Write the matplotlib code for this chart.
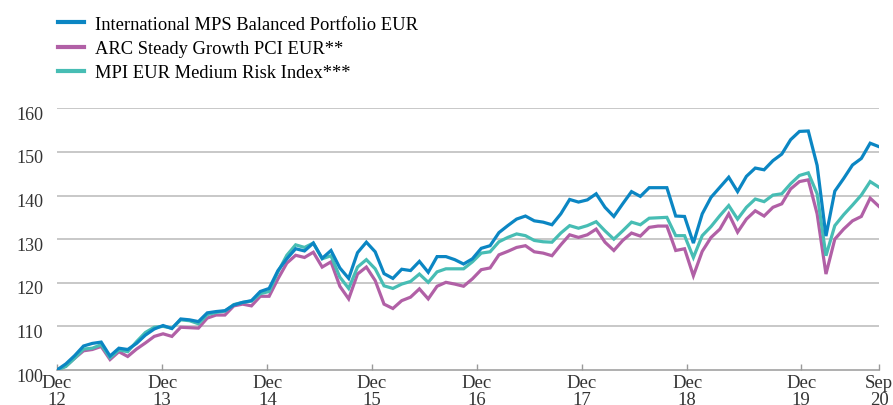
import matplotlib
matplotlib.use("Agg")
import matplotlib.pyplot as plt
import matplotlib.transforms as mtransforms

# monthly index values, Dec 2012 = 100 (94 months up to Sep 2020)
mps = [100.0, 101.4, 103.3, 105.5, 106.1, 106.4, 103.2, 105.0, 104.7, 106.1,
       108.0, 109.4, 110.2, 109.5, 111.7, 111.5, 111.1, 113.1, 113.4, 113.6,
       114.9, 115.5, 115.9, 118.0, 118.7, 122.8, 125.5, 127.8, 127.3, 129.1,
       125.6, 127.4, 123.4, 121.0, 126.9, 129.3, 127.1, 122.1, 121.0, 123.1,
       122.8, 124.9, 122.4, 126.0, 126.0, 125.3, 124.3, 125.5, 127.9, 128.5,
       131.5, 133.1, 134.6, 135.3, 134.2, 133.9, 133.3, 135.8, 139.1, 138.5,
       139.0, 140.4, 137.3, 135.2, 138.1, 140.9, 139.8, 141.8, 141.8, 141.8,
       135.3, 135.2, 129.1, 135.8, 139.6, 141.9, 144.2, 140.9, 144.4, 146.3,
       145.9, 148.0, 149.5, 152.8, 154.7, 154.8, 146.9, 130.7, 141.0, 143.9,
       147.0, 148.5, 152.0, 151.2]

arc = [100.0, 100.9, 102.7, 104.4, 104.7, 105.4, 102.4, 104.2, 103.1, 104.8,
       106.2, 107.7, 108.3, 107.7, 109.8, 109.7, 109.6, 111.9, 112.6, 112.6,
       114.7, 115.1, 114.7, 116.9, 116.9, 120.9, 124.5, 126.3, 125.8, 127.0,
       123.6, 124.8, 119.2, 116.3, 122.0, 123.6, 120.5, 115.1, 114.1, 115.9,
       116.7, 118.6, 116.3, 119.2, 120.1, 119.7, 119.2, 120.9, 123.0, 123.4,
       126.4, 127.2, 128.1, 128.5, 127.1, 126.8, 126.2, 128.7, 131.0, 130.4,
       131.0, 132.3, 129.3, 127.4, 129.7, 131.4, 130.7, 132.7, 133.0, 133.0,
       127.4, 127.8, 121.6, 127.2, 130.4, 132.3, 135.8, 131.6, 134.6, 136.5,
       135.3, 137.3, 138.1, 141.5, 143.2, 143.6, 135.8, 122.0, 130.0, 132.3,
       134.2, 135.2, 139.4, 137.5]

mpi = [100.0, 100.8, 102.7, 104.8, 105.0, 105.8, 102.8, 104.6, 104.2, 106.5,
       108.6, 109.8, 110.0, 109.6, 111.5, 111.3, 110.6, 112.7, 113.2, 113.5,
       115.0, 115.5, 115.8, 117.5, 118.0, 122.5, 126.3, 128.7, 128.1, 129.1,
       125.5, 126.2, 121.3, 118.7, 123.6, 125.3, 123.2, 119.3, 118.7, 119.7,
       120.3, 122.0, 120.1, 122.5, 123.2, 123.2, 123.2, 124.8, 126.8, 127.1,
       129.4, 130.4, 131.2, 130.8, 129.7, 129.4, 129.3, 131.4, 133.1, 132.5,
       133.1, 134.0, 131.9, 130.0, 131.9, 133.9, 133.3, 134.8, 134.9, 135.0,
       130.8, 130.8, 125.8, 130.8, 132.9, 135.4, 137.7, 134.6, 137.3, 139.2,
       138.6, 140.1, 140.4, 142.7, 144.6, 145.2, 140.4, 126.2, 133.1, 135.6,
       137.8, 140.1, 143.2, 141.9]

months = list(range(len(mps)))

tick_pos = [0, 11.9, 23.8, 35.6, 47.5, 59.4, 71.3, 84.2, 93]
tick_labels = ["Dec\n12", "Dec\n13", "Dec\n14", "Dec\n15", "Dec\n16",
               "Dec\n17", "Dec\n18", "Dec\n19", "Sep\n20"]
y_ticks = [100, 110, 120, 130, 140, 150, 160]

names = ["International MPS Balanced Portfolio EUR",
         "ARC Steady Growth PCI EUR**",
         "MPI EUR Medium Risk Index***"]
colors = ["#0b86c3", "#b160a6", "#47bdb4"]

plt.rcParams["font.family"] = ["Liberation Serif", "DejaVu Serif"]

fig = plt.figure(figsize=(8.93, 4.06), dpi=100)
ax = fig.add_axes([57 / 893, 1 - 371 / 406, (879 - 57) / 893, (371 - 109.3) / 406])

# draw order: magenta, teal, blue on top
ax.plot(months, arc, color=colors[1], lw=2.3, solid_joinstyle="miter", zorder=3)
ax.plot(months, mpi, color=colors[2], lw=2.3, solid_joinstyle="miter", zorder=4)
ax.plot(months, mps, color=colors[0], lw=2.3, solid_joinstyle="miter", zorder=5)

ax.set_xlim(0, 93)
ax.set_ylim(100, 160)
ax.set_yticks(y_ticks)
ax.set_yticklabels([str(v) for v in y_ticks], fontsize=13, color="#333333")
ax.set_xticks(tick_pos)
ax.set_xticklabels(tick_labels, fontsize=13.5, color="#333333", linespacing=0.95)

for v in y_ticks[1:]:
    ax.axhline(v, color="#b9b9b9", lw=1.1, zorder=1)

for s in ["top", "right", "left"]:
    ax.spines[s].set_visible(False)
ax.spines["bottom"].set_color("#9a9a9a")
ax.spines["bottom"].set_linewidth(1.1)

ax.tick_params(axis="y", length=0, pad=10)
ax.tick_params(axis="x", direction="in", length=4.5, width=1, color="#9a9a9a", pad=3)

# y labels sit a bit below their gridlines
offset = mtransforms.ScaledTranslation(0, -4 / 100, fig.dpi_scale_trans)
for lab in ax.get_yticklabels():
    lab.set_transform(lab.get_transform() + offset)

# legend at the top left
handles = [plt.Line2D([], [], color=c, lw=3) for c in colors]
fig.legend(handles, names, loc="upper left", bbox_to_anchor=(54 / 893, 1 - 13 / 406),
           frameon=False, fontsize=13.3, handlelength=1.45, handletextpad=0.55,
           labelspacing=0.4, borderaxespad=0, borderpad=0.2)

fig.savefig("out.png", dpi=100)
